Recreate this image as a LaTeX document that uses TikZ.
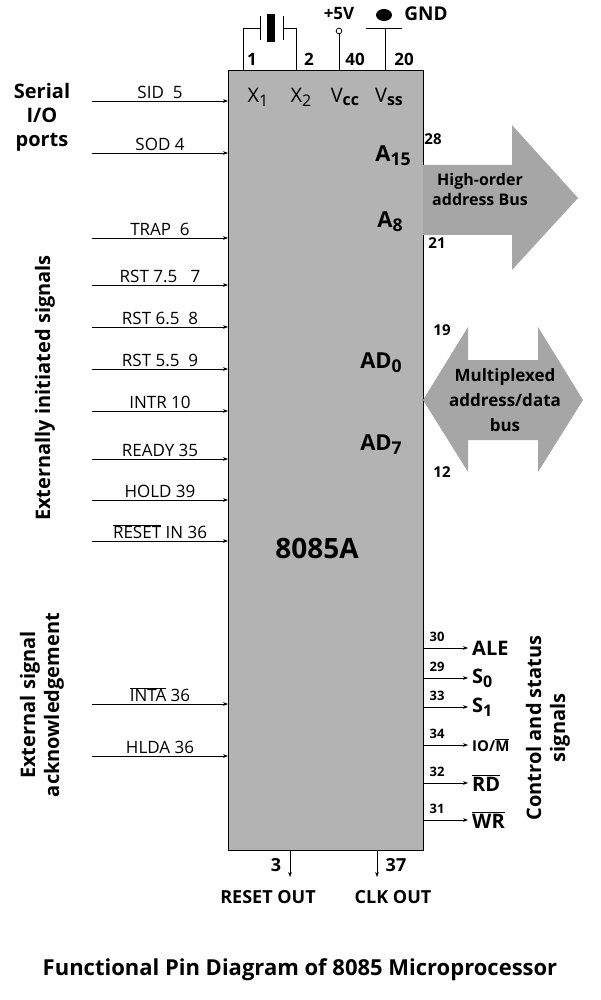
\documentclass[tikz,border=0pt]{standalone}
\usepackage{fontspec}
\setmainfont{Open Sans}
\usetikzlibrary{arrows.meta,positioning}
\definecolor{chipgray}{RGB}{179,179,179}
\definecolor{busgray}{RGB}{166,166,166}
\newcommand{\sub}[1]{\raisebox{-0.35ex}{\fontsize{0.8em}{1em}\selectfont #1}}
\tikzset{
  pinin/.style = {-{Stealth[length=5pt]}, thick},
  pinlbl/.style = {font=\fontsize{17}{19}\selectfont, anchor=south, inner sep=2pt},
  pinnum/.style = {font=\fontsize{15}{17}\selectfont\bfseries, inner sep=1pt},
  sig/.style = {font=\fontsize{20}{22}\selectfont\bfseries, anchor=west, inner sep=1pt},
  grp/.style = {font=\fontsize{20}{24}\selectfont\bfseries, align=center},
  wire/.style = {thick},
}
\begin{document}
\begin{tikzpicture}[x=1pt,y=-1pt]
  \useasboundingbox (0,0) rectangle (600,1000);
  % chip body
  \draw[fill=chipgray, thick] (228,70) rectangle (423,850);
  \node[font=\fontsize{28}{30}\selectfont\bfseries] (chip) at (317,548) {8085A};

  % left input pins
  \foreach \y/\txt/\nm in {101/SID\ \ 5/sid, 153/SOD 4/sod, 238/TRAP\ \ 6/trap,
      285/RST 7.5\ \ \ 7/rsta, 327/RST 6.5\ \ 8/rstb, 369/RST 5.5\ \ 9/rstc,
      411/INTR 10/intr, 459/READY 35/ready, 500/HOLD 39/hold,
      541/$\overline{\mbox{RESET}}$ IN 36/reset, 704/$\overline{\mbox{INTA}}$ 36/inta,
      756/HLDA 36/hlda} {
    \coordinate (\nm-a) at (92,\y);
    \coordinate (\nm-b) at (228,\y);
    \draw[pinin] (\nm-a) -- (\nm-b);
    \node[pinlbl] (\nm-l) at (160,\y) {\txt};
  }
  \node[grp] (serial) at (42,117) {Serial\\I/O\\ports};
  \node[grp, rotate=90] (ext) at (45,388) {Externally initiated signals};
  \node[grp, rotate=90, align=center] (ack) at (42,705) {External signal\\acknowledgement};

  % top pins
  \coordinate (p1) at (243,70);  \coordinate (p1t) at (243,28);
  \coordinate (p2) at (296,70);  \coordinate (p2t) at (296,28);
  \draw[wire] (p1) -- (p1t) -- (260,28);
  \draw[wire] (p2) -- (p2t) -- (283,28);
  \draw[wire] (260,16) -- (260,40);
  \draw[wire] (283,16) -- (283,40);
  \fill (267,14) rectangle (275,42);
  \coordinate (p40) at (339,70);
  \node[draw, circle, thick, inner sep=2pt, fill=white] (vcc) at (339,31) {};
  \draw[wire] (p40) -- (vcc);
  \node[font=\fontsize{17}{19}\selectfont\bfseries] (plus) at (339,14) {+5V};
  \coordinate (p20) at (385,70);
  \coordinate (gndbar) at (385,28);
  \draw[wire] (p20) -- (gndbar);
  \draw[wire] (366,28) -- (402,28);
  \fill (384,15) ellipse (8 and 6);
  \node[font=\fontsize{19}{21}\selectfont\bfseries] (gnd) at (426,14) {GND};
  \node[pinnum, font=\fontsize{17}{19}\selectfont\bfseries] at (252,59) {1};
  \node[pinnum, font=\fontsize{17}{19}\selectfont\bfseries] at (309,59) {2};
  \node[pinnum, font=\fontsize{17}{19}\selectfont\bfseries] at (355,59) {40};
  \node[pinnum, font=\fontsize{17}{19}\selectfont\bfseries] at (404,59) {20};
  \node[font=\fontsize{20}{22}\selectfont] at (258,97) {X\sub{1}};
  \node[font=\fontsize{20}{22}\selectfont] at (301,97) {X\sub{2}};
  \node[font=\fontsize{20}{22}\selectfont] at (345,97) {V\sub{\bfseries cc}};
  \node[font=\fontsize{20}{22}\selectfont] at (389,97) {V\sub{\bfseries ss}};

  % high-order address bus
  \fill[busgray] (423,165) -- (512,165) -- (512,125) -- (578,198) -- (512,270)
    -- (512,235) -- (423,235) -- cycle;
  \node[font=\fontsize{16}{20}\selectfont\bfseries, align=center] (hab) at (480,190)
    {High-order\\address Bus};
  \node[font=\fontsize{22}{24}\selectfont\bfseries] at (393,156) {A\sub{15}};
  \node[font=\fontsize{22}{24}\selectfont\bfseries] at (390,222) {A\sub{8}};
  \node[pinnum] at (433,139) {28};
  \node[pinnum] at (437,243) {21};

  % multiplexed bus
  \fill[busgray] (423,400) -- (468,327) -- (468,360) -- (538,360) -- (538,327)
    -- (583,400) -- (538,472) -- (538,440) -- (468,440) -- (468,472) -- cycle;
  \node[font=\fontsize{17}{25}\selectfont\bfseries, align=center] (mux) at (505,400)
    {Multiplexed\\address/data\\bus};
  \node[font=\fontsize{22}{24}\selectfont\bfseries] at (381,363) {AD\sub{0}};
  \node[font=\fontsize{22}{24}\selectfont\bfseries] at (381,445) {AD\sub{7}};
  \node[pinnum] at (442,330) {19};
  \node[pinnum] at (442,472) {12};

  % control outputs
  \foreach \y/\n/\txt/\nm in {648/30/ALE/ale, 678/29/S\sub{0}/sz,
      707/33/S\sub{1}/so, 745/34/{\fontsize{15}{17}\selectfont IO/$\overline{\mbox{M}}$}/iom,
      783/32/$\overline{\mbox{RD}}$/rd, 820/31/$\overline{\mbox{WR}}$/wr} {
    \coordinate (\nm-a) at (423,\y);
    \coordinate (\nm-b) at (468,\y);
    \draw[pinin] (\nm-a) -- (\nm-b);
    \node[sig] (\nm-l) at (471,\y) {\txt};
    \node[pinnum, font=\fontsize{13}{15}\selectfont\bfseries] at (437,\y-11) {\n};
  }
  \node[grp, rotate=90] (ctrl) at (548,728) {Control and status\\signals};

  % bottom outputs
  \coordinate (ro-a) at (290,850); \coordinate (ro-b) at (290,877);
  \coordinate (ck-a) at (377,850); \coordinate (ck-b) at (377,877);
  \draw[pinin] (ro-a) -- (ro-b);
  \draw[pinin] (ck-a) -- (ck-b);
  \node[font=\fontsize{18}{20}\selectfont\bfseries] at (276,865) {3};
  \node[font=\fontsize{18}{20}\selectfont\bfseries] at (396,865) {37};
  \node[font=\fontsize{18}{20}\selectfont\bfseries] (rout) at (268,897) {RESET OUT};
  \node[font=\fontsize{18}{20}\selectfont\bfseries] (cout) at (393,897) {CLK OUT};

  \node[font=\fontsize{22}{24}\selectfont\bfseries] (title) at (300,970)
    {Functional Pin Diagram of 8085 Microprocessor};
\end{tikzpicture}
\end{document}
